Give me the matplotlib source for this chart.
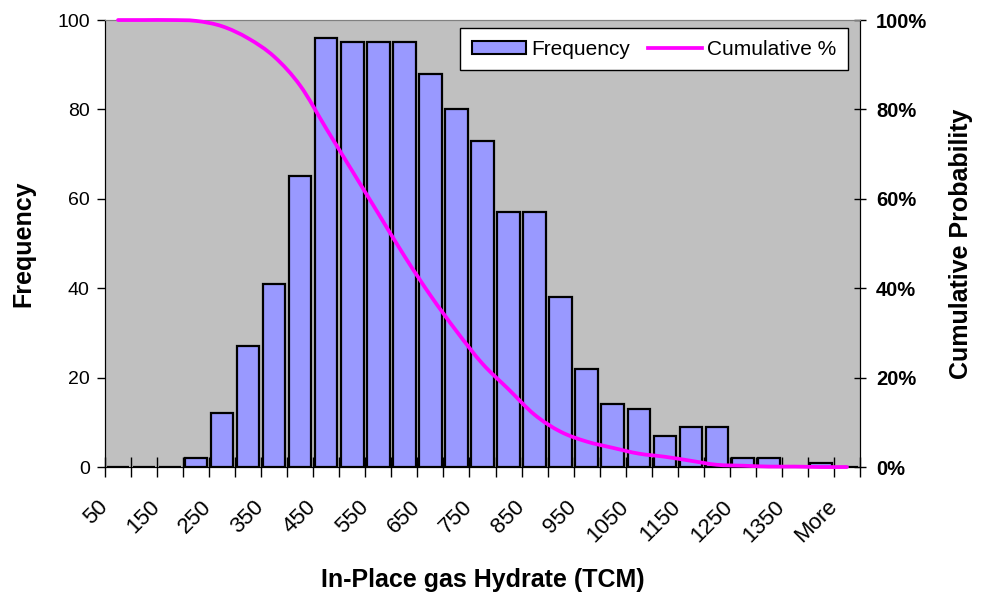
import numpy as np
import matplotlib
matplotlib.use('Agg')
import matplotlib.pyplot as plt
from matplotlib.path import Path
from matplotlib.patches import PathPatch, Patch
from matplotlib.lines import Line2D
from matplotlib.ticker import FixedLocator, PercentFormatter
from matplotlib.transforms import ScaledTranslation

plt.rcParams['font.family'] = ['Liberation Sans', 'DejaVu Sans']

# bins (upper edges) as in the Excel histogram
bin_labels = ['50', '100', '150', '200', '250', '300', '350', '400', '450', '500',
              '550', '600', '650', '700', '750', '800', '850', '900', '950', '1000',
              '1050', '1100', '1150', '1200', '1250', '1300', '1350', '1400', 'More']
frequency = [0, 0, 0, 2, 12, 27, 41, 65, 96, 95,
             95, 95, 88, 80, 73, 57, 57, 38, 22, 14,
             13, 7, 9, 9, 2, 2, 0, 1, 0]
cumulative = [1.000, 1.000, 1.000, 0.998, 0.986, 0.959, 0.918, 0.853, 0.757, 0.662,
              0.567, 0.472, 0.384, 0.304, 0.231, 0.174, 0.117, 0.079, 0.057, 0.043,
              0.030, 0.023, 0.014, 0.005, 0.003, 0.001, 0.001, 0.000, 0.000]

BAR_COLOR = '#9999FF'
LINE_COLOR = '#FF00FF'
BG = '#C0C0C0'

fig = plt.figure(figsize=(9.85, 5.96), dpi=100)
ax = fig.add_axes([0.1066, 0.2164, 0.7665, 0.75])
ax.set_facecolor(BG)

x = np.arange(len(bin_labels))
ax.bar(x, frequency, width=0.86, color=BAR_COLOR, edgecolor='black', linewidth=1.6, zorder=2)

ax.set_xlim(-0.5, len(bin_labels) - 0.5)
ax.set_ylim(0, 100)
ax.set_yticks(range(0, 101, 20))
ax.tick_params(axis='y', direction='out', length=6, width=1, labelsize=14, pad=5)

# ticks on bin boundaries, labels on every other bin
ax.xaxis.set_major_locator(FixedLocator(np.arange(-0.5, len(bin_labels), 1.0)))
ax.tick_params(axis='x', which='major', direction='inout', length=14, width=1, labelbottom=False)
ax.xaxis.set_minor_locator(FixedLocator(x[::2]))
ax.set_xticklabels(bin_labels[::2], minor=True)
ax.tick_params(axis='x', which='minor', length=0, labelsize=16, pad=21)
for lab in ax.get_xticklabels(minor=True):
    lab.set_rotation(45)
    lab.set_ha('right')
    lab.set_va('top')
    lab.set_transform(lab.get_transform() + ScaledTranslation(-0.06, 0, fig.dpi_scale_trans))

ax.set_ylabel('Frequency', fontsize=18, fontweight='bold', labelpad=16)
ax.set_xlabel('In-Place gas Hydrate (TCM)', fontsize=18, fontweight='bold', labelpad=15)

for side in ['left', 'bottom', 'right']:
    ax.spines[side].set_color('black')
ax.spines['top'].set_color('#808080')

# cumulative curve, smoothed like Excel (Bezier through the points)
ax2 = ax.twinx()
ax2.set_ylim(0, 1)
ax2.set_yticks(np.arange(0, 1.01, 0.2))
ax2.yaxis.set_major_formatter(PercentFormatter(1.0, decimals=0))
ax2.tick_params(axis='y', direction='inout', length=9, width=1, labelsize=14.5, pad=7)
for lab in ax2.get_yticklabels():
    lab.set_fontweight('bold')
ax2.set_ylabel('Cumulative Probability', fontsize=18, fontweight='bold', labelpad=16)
ax2.spines['top'].set_color('#808080')

n = len(cumulative)
verts = [(x[0], cumulative[0])]
codes = [Path.MOVETO]
for i in range(n - 1):
    a = max(i - 1, 0)
    b = min(i + 2, n - 1)
    c1 = (x[i] + (x[i + 1] - x[a]) / 6, cumulative[i] + (cumulative[i + 1] - cumulative[a]) / 6)
    c2 = (x[i + 1] - (x[b] - x[i]) / 6, cumulative[i + 1] - (cumulative[b] - cumulative[i]) / 6)
    verts += [c1, c2, (x[i + 1], cumulative[i + 1])]
    codes += [Path.CURVE4] * 3
curve = PathPatch(Path(verts, codes), facecolor='none', edgecolor=LINE_COLOR,
                  linewidth=2.7, capstyle='round', joinstyle='round', clip_on=False, zorder=3)
ax2.add_patch(curve)

handles = [Patch(facecolor=BAR_COLOR, edgecolor='black', linewidth=1.5),
           Line2D([], [], color=LINE_COLOR, linewidth=2.7)]
leg = ax2.legend(handles, ['Frequency', 'Cumulative %'], ncol=2, loc='upper right',
                 bbox_to_anchor=(0.984, 0.982), fontsize=15, frameon=True, fancybox=False,
                 edgecolor='black', framealpha=1, borderpad=0.55, handlelength=2.6,
                 handleheight=0.6, handletextpad=0.25, columnspacing=0.85, borderaxespad=0)
leg.get_frame().set_linewidth(1.0)

fig.savefig('out.png', dpi=100)
